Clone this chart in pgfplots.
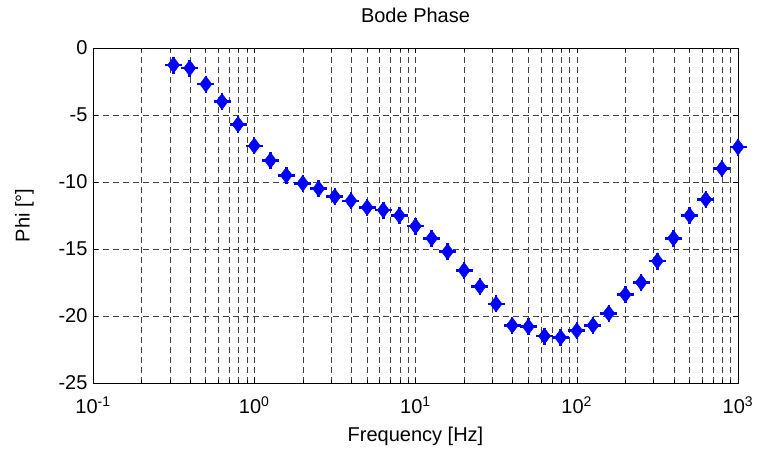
\documentclass[border=0pt]{standalone}
\usepackage{pgfplots}
\pgfplotsset{compat=1.18}
\usepackage{fontspec}
\setmainfont{Liberation Sans}
\begin{document}
\begin{tikzpicture}
\begin{axis}[
    at={(0,0)}, anchor=south west,
    scale only axis,
    width=645pt, height=335pt,
    xmode=log,
    xmin=0.1, xmax=1000,
    ymin=-25, ymax=0,
    xtick={0.1,1,10,100,1000},
    xticklabels={10\textsuperscript{-1},10\textsuperscript{0},10\textsuperscript{1},10\textsuperscript{2},10\textsuperscript{3}},
    ytick={-25,-20,-15,-10,-5,0},
    yticklabels={-25,-20,-15,-10,-5,0},
    tick label style={font=\fontsize{20}{22}\selectfont},
    xticklabel style={yshift=-10pt},
    yticklabel style={xshift=-2pt},
    label style={font=\fontsize{20}{22}\selectfont},
    title style={font=\fontsize{20}{22}\selectfont, yshift=16pt},
    title={Bode Phase},
    xlabel={Frequency [Hz]},
    ylabel={Phi [°]},
    xlabel style={yshift=-6pt},
    ylabel style={yshift=18pt},
    grid=both,
    major grid style={black!75, dash pattern=on 6pt off 4pt, line width=0.5pt},
    minor grid style={black!75, dash pattern=on 6pt off 4pt, line width=0.5pt},
    yminorgrids=false,
    tick align=inside,
    major tick length=5pt,
    minor tick length=3pt,
    axis line style={line width=0.8pt},
    every tick/.style={black, line width=0.5pt},
]
\pgfplotstableread{
f phi
0.316 -1.27
0.398 -1.5
0.501 -2.7
0.631 -4.0
0.794 -5.7
1.0 -7.3
1.26 -8.4
1.58 -9.5
2.0 -10.1
2.51 -10.5
3.16 -11.1
3.98 -11.4
5.01 -11.9
6.31 -12.1
7.94 -12.5
10.0 -13.3
12.6 -14.2
15.8 -15.2
20.0 -16.6
25.1 -17.8
31.6 -19.1
39.8 -20.7
50.1 -20.8
63.1 -21.5
79.4 -21.6
100 -21.1
126 -20.7
158 -19.8
200 -18.4
251 -17.5
316 -15.9
398 -14.2
501 -12.5
631 -11.3
794 -9.0
1000 -7.4
}\phasedata
\addplot[only marks, mark=diamond*, mark size=8pt, blue, mark options={fill=blue, draw=blue}] table[x=f, y=phi] {\phasedata};
\addplot[only marks, mark=+, mark size=8.5pt, blue, mark options={line width=2.5pt}] table[x=f, y=phi] {\phasedata};
\end{axis}
\pgfresetboundingbox
\path[use as bounding box] (-93pt,-71pt) rectangle (664pt,383pt);
\end{tikzpicture}
\end{document}
